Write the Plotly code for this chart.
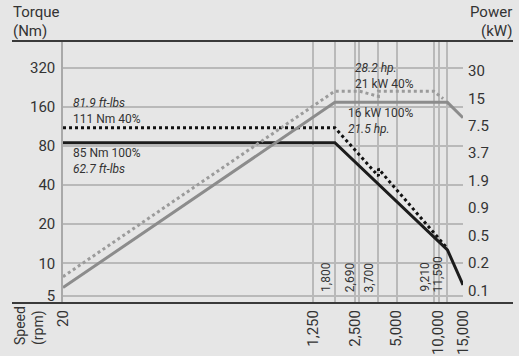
import numpy as np
import plotly.graph_objects as go

# ---------------- data ----------------
# torque curves (Nm) vs speed (rpm)
torque_100_speed = [20, 1800, 11590, 15000]
torque_100_nm = [85, 85, 12.7, 6.8]
torque_40_speed = [20, 1800, 3700, 3700, 9210, 11590]
torque_40_nm = [111, 111, 47, 53.5, 17.3, 13.0]

# power curves (kW) vs speed (rpm)
power_100_speed = [20, 1800, 11590, 15000]
power_100_kw = [0.178, 16, 16, 11]
power_40_speed = [20, 1800, 2690, 3700, 3700, 9210, 10800]
power_40_kw = [0.232, 21, 21, 18.5, 21, 21, 17.5]

# axis ticks
speed_ticks = [20, 1250, 2500, 5000, 10000, 15000]
speed_tick_labels = ["20", "1,250", "2,500", "5,000", "10,000", "15,000"]
speed_markers = [1800, 2690, 3700, 9210, 11590]
speed_marker_labels = ["1,800", "2,690", "3,700", "9,210", "11,590"]
torque_ticks = [5.6, 10, 20, 40, 80, 160, 320]
torque_tick_labels = ["5", "10", "20", "40", "80", "160", "320"]
power_tick_labels = ["0.1", "0.2", "0.5", "0.9", "1.9", "3.7", "7.5", "15", "30"]

# ---------------- layout geometry ----------------
W, H = 519, 356
L, R, T, B = 63, 56, 41, 53
PW, PH = W - L - R, H - T - B
FONT = "Roboto, Arial, sans-serif"
TXT = "#333333"
GRID = "#b9b9b9"
BG = "#e6e6e6"


def px_x(p):
    return (p - L) / PW


def px_y(p):
    return (H - B - p) / PH


fig = go.Figure()

fig.add_trace(go.Scatter(x=power_40_speed, y=power_40_kw, yaxis="y2", mode="lines",
                         line=dict(color="#9b9b9b", width=3, dash="dot"), hoverinfo="skip"))
fig.add_trace(go.Scatter(x=power_100_speed, y=power_100_kw, yaxis="y2", mode="lines",
                         line=dict(color="#8c8c8c", width=3), hoverinfo="skip"))
fig.add_trace(go.Scatter(x=torque_40_speed, y=torque_40_nm, mode="lines",
                         line=dict(color="#111111", width=3, dash="dot"), hoverinfo="skip"))
fig.add_trace(go.Scatter(x=torque_100_speed, y=torque_100_nm, mode="lines",
                         line=dict(color="#1c1c1c", width=3), hoverinfo="skip"))
# helper (empty) trace to register the power-label axis
fig.add_trace(go.Scatter(x=[], y=[], yaxis="y3", hoverinfo="skip"))

grid_vals = speed_ticks + speed_markers
grid_text = speed_tick_labels + [""] * len(speed_markers)

fig.update_layout(
    width=W, height=H,
    margin=dict(l=L, r=R, t=T, b=B, pad=0, autoexpand=False),
    paper_bgcolor=BG, plot_bgcolor=BG,
    showlegend=False,
    font=dict(family=FONT, color=TXT, size=15),
    xaxis=dict(type="log", range=[np.log10(20), np.log10(15000)],
               tickvals=grid_vals, ticktext=grid_text, tickangle=-90,
               showgrid=True, gridcolor=GRID, gridwidth=1.5, automargin=False,
               zeroline=False, showline=False, ticks="", ticklabelstandoff=3,
               tickfont=dict(size=15, color=TXT)),
    yaxis=dict(type="log", range=[np.log10(4.94), np.log10(517)],
               tickvals=torque_ticks, ticktext=torque_tick_labels,
               showgrid=True, gridcolor=GRID, gridwidth=1.5, automargin=False,
               showline=True, linecolor="#a9a9a9", linewidth=1.5,
               zeroline=False, ticks="", ticklabelstandoff=3,
               tickfont=dict(size=15, color=TXT)),
    yaxis2=dict(type="log", range=[-0.912, 1.851], overlaying="y", side="right",
                showticklabels=False, showgrid=False, zeroline=False, ticks="",
                automargin=False),
    yaxis3=dict(range=[-0.464, 9.095], overlaying="y", side="right",
                tickvals=list(range(len(power_tick_labels))), ticktext=power_tick_labels,
                showgrid=False, zeroline=False, ticks="", ticklabelstandoff=4,
                automargin=False, tickfont=dict(size=15, color=TXT)),
)

# top and bottom dark rules
for yy in (0, 1):
    fig.add_shape(type="line", xref="paper", yref="paper",
                  x0=px_x(12), x1=px_x(513), y0=yy, y1=yy,
                  line=dict(color="#3a3a3a", width=2))

# axis titles (one annotation per line to keep the tight line spacing)
title_lines = [("Torque", 12), ("(Nm)", 31)]
for txt, yc in title_lines:
    fig.add_annotation(text=txt, xref="paper", yref="paper",
                       x=px_x(11), y=px_y(yc), xanchor="left", yanchor="middle",
                       showarrow=False, font=dict(size=15, color=TXT))
power_lines = [("Power", 12), ("(kW)", 31)]
for txt, yc in power_lines:
    fig.add_annotation(text=txt, xref="paper", yref="paper",
                       x=px_x(514), y=px_y(yc), xanchor="right", yanchor="middle",
                       showarrow=False, font=dict(size=15, color=TXT))
fig.add_annotation(text="Speed<br>(rpm)", xref="paper", yref="paper",
                   x=px_x(10), y=px_y(304), xanchor="left", yanchor="top",
                   align="left", textangle=-90, showarrow=False,
                   font=dict(size=14, color=TXT))

# in-plot speed marker labels
for v, lab in zip(speed_markers, speed_marker_labels):
    fig.add_annotation(text=lab, x=np.log10(v), xref="x", y=0, yref="paper",
                       xanchor="right", yanchor="bottom", xshift=0, yshift=9,
                       textangle=-90, showarrow=False,
                       font=dict(size=12, color=TXT))

# curve annotations
fig.add_annotation(text="<i>81.9 ft-lbs</i><br>111 Nm 40%", x=np.log10(20), y=np.log10(111),
                   xref="x", yref="y", xanchor="left", yanchor="bottom", align="left",
                   xshift=8, yshift=0, showarrow=False, font=dict(size=12, color=TXT))
fig.add_annotation(text="85 Nm 100%<br><i>62.7 ft-lbs</i>", x=np.log10(20), y=np.log10(85),
                   xref="x", yref="y", xanchor="left", yanchor="top", align="left",
                   xshift=8, yshift=-1, showarrow=False, font=dict(size=12, color=TXT))
fig.add_annotation(text="<i>28.2 hp.</i><br>21 kW 40%", x=np.log10(2500), y=np.log10(21),
                   xref="x", yref="y2", xanchor="left", yanchor="bottom", align="left",
                   xshift=-2, yshift=-2, showarrow=False, font=dict(size=12, color=TXT))
fig.add_annotation(text="16 kW 100%<br><i>21.5 hp.</i>", x=np.log10(1800), y=np.log10(16),
                   xref="x", yref="y2", xanchor="left", yanchor="top", align="left",
                   xshift=11, yshift=-2, showarrow=False, font=dict(size=12, color=TXT))

fig.write_html("out.html")
